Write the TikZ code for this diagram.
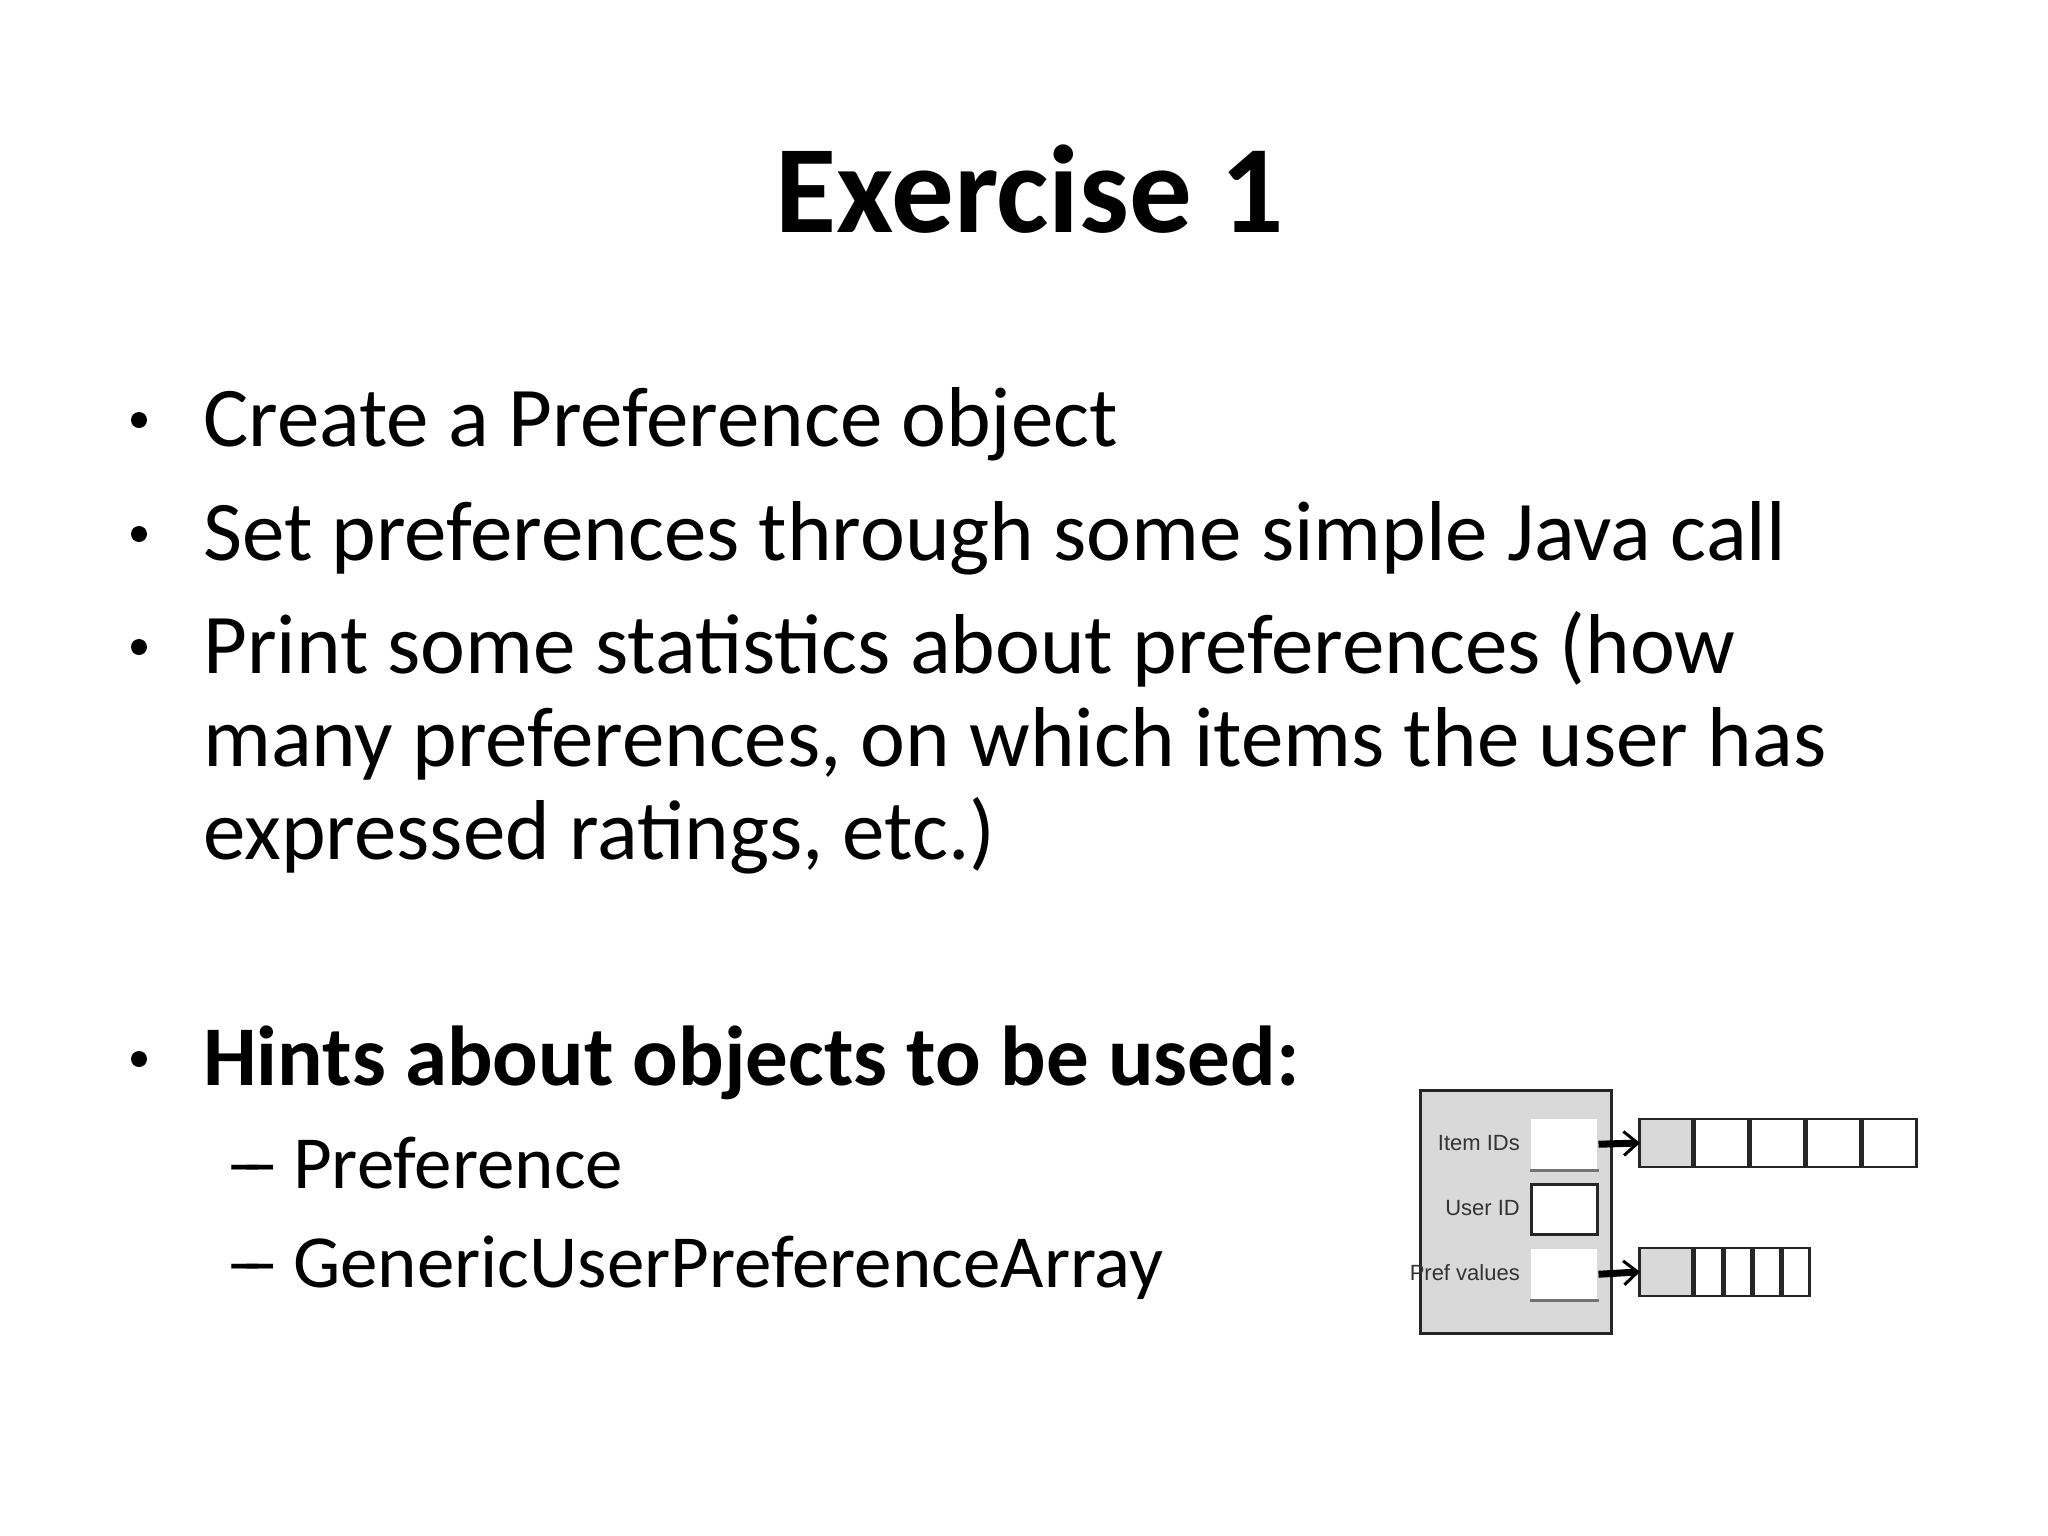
\documentclass[tikz,border=0pt]{standalone}
\usepackage{fontspec}
\setmainfont{Carlito}
\newfontfamily\diafont{Liberation Sans}
\usetikzlibrary{arrows.meta}
\definecolor{boxgray}{HTML}{D9D9D9}
\tikzset{
  x=1pt,y=-1pt,
  txt/.style={anchor=base west,inner sep=0pt,font=\fontsize{85}{102}\selectfont},
  sub/.style={anchor=base west,inner sep=0pt,font=\fontsize{75}{90}\selectfont},
  bul/.style={circle,fill=black,inner sep=0pt,minimum size=16pt},
  lab/.style={anchor=east,inner sep=0pt,font=\diafont\fontsize{22}{26}\selectfont,text=black!80},
  fbox/.style={draw=black!85,line width=2.5pt,fill=white},
  cell/.style={draw=black!85,line width=2.5pt,minimum height=48,anchor=west,inner sep=0pt},
  ptr/.style={line width=7pt,-{Straight Barb[length=14pt,width=24pt,line width=3pt]},shorten >=-2pt}
}
\begin{document}
\begin{tikzpicture}
\useasboundingbox (0,0) rectangle (2048,1536);
\node[anchor=base,inner sep=0pt,font=\bfseries\fontsize{125}{150}\selectfont] (title) at (1030,232) {Exercise 1};
\foreach \y/\n in {420/b1,534/b2,647/b3,1059/b4}{\node[bul] (\n) at (139,\y) {};}
\node[txt] (t1) at (203,446) {Create a Preference object};
\node[txt] (t2) at (203,560) {Set preferences through some simple Java call};
\node[txt] (t3) at (203,673) {Print some statistics about preferences (how};
\node[txt] (t4) at (203,766) {many preferences, on which items the user has};
\node[txt] (t5) at (203,859) {expressed ratings, etc.)};
\node[txt,font=\bfseries\fontsize{85}{102}\selectfont] (t6) at (203,1085) {Hints about objects to be used:};
\node[sub] (d1) at (226,1188) {–\kern-0.3em–};
\node[sub] (s1) at (293,1188) {Preference};
\node[sub] (d2) at (226,1287) {–\kern-0.3em–};
\node[sub] (s2) at (293,1287) {GenericUserPreferenceArray};
% diagram
\draw[draw=black!85,line width=3pt,fill=boxgray] (1420,1090) rectangle (1611,1333);
\node[fbox,minimum width=66,minimum height=50,draw=none,anchor=north west] (f1) at (1530,1118) {};
\draw[line width=3pt,black!55] (f1.south west)--(f1.south east);
\node[fbox,minimum width=66,minimum height=50,anchor=north west] (f2) at (1530,1183) {};
\node[fbox,minimum width=66,minimum height=50,draw=none,anchor=north west] (f3) at (1530,1248) {};
\draw[line width=3pt,black!55] (f3.south west)--(f3.south east);
\node[lab] (l1) at (1520,1143) {Item IDs};
\node[lab] (l2) at (1520,1208) {User ID};
\node[lab] (l3) at (1520,1273) {Pref values};
% arrays
\node[cell,fill=boxgray,minimum width=53.4] (a0) at (1638,1143) {};
\foreach \i/\p in {1/a0,2/a1,3/a2,4/a3}{\node[cell,fill=white,minimum width=53.4] (a\i) at (\p.east) {};}
\node[cell,fill=boxgray,minimum width=53.4] (c0) at (1638,1272) {};
\foreach \i/\p in {1/c0,2/c1,3/c2,4/c3}{\node[cell,fill=white,minimum width=26.7] (c\i) at (\p.east) {};}
\draw[ptr] (f1.east) -- (a0.west);
\draw[ptr] (f3.east) -- (c0.west);
\end{tikzpicture}
\end{document}
